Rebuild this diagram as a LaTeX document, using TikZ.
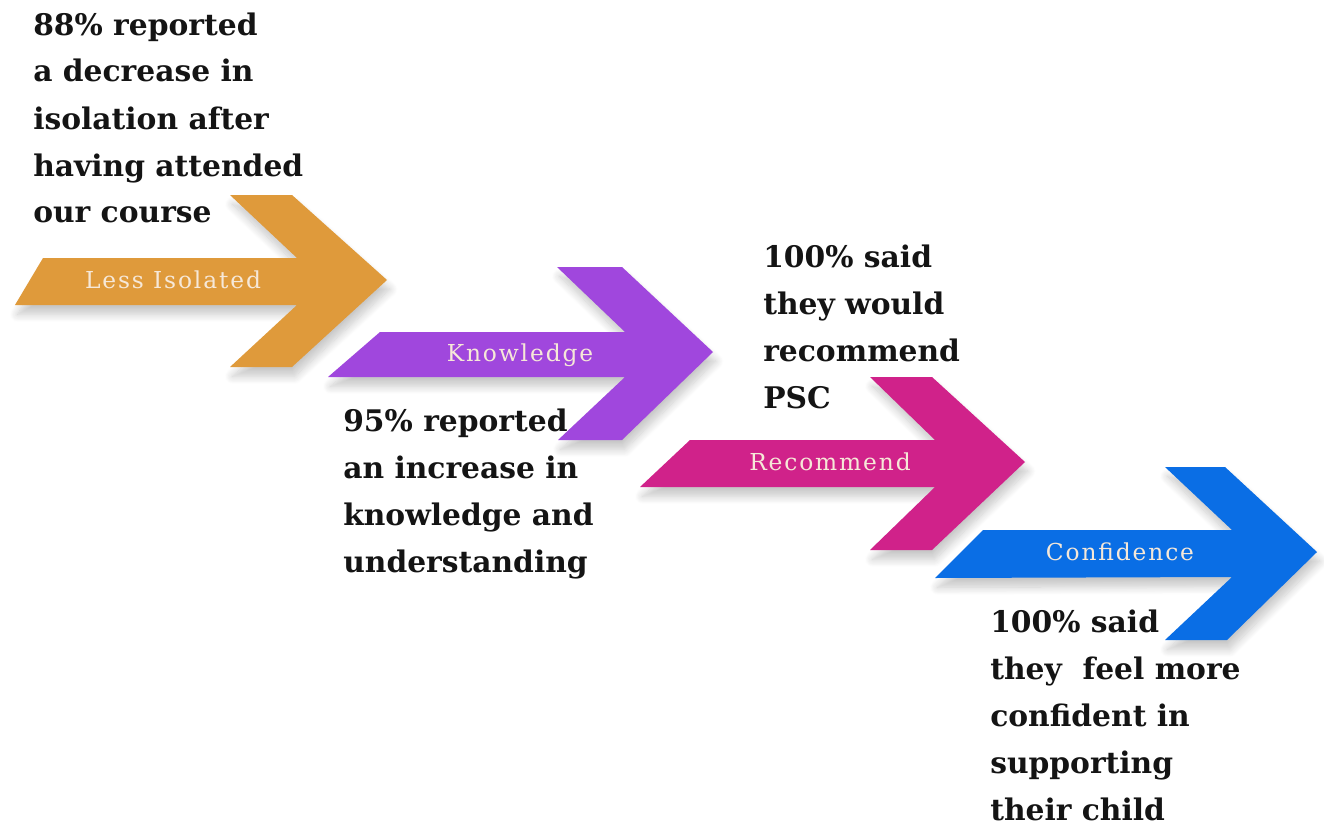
\documentclass[tikz,border=0pt]{standalone}
\usepackage{fontspec}
\setmainfont{DejaVu Serif}
\newfontfamily\bodyfont{DejaVu Serif}[BoldFont={DejaVu Serif Bold}]
\newfontfamily\lblfont{DejaVu Serif}[LetterSpace=8]
\usetikzlibrary{shadows.blur}
\definecolor{cOrange}{HTML}{DF9A3B}
\definecolor{cPurple}{HTML}{A047DD}
\definecolor{cMagenta}{HTML}{D0228A}
\definecolor{cBlue}{HTML}{0A6EE5}
\definecolor{cLabel}{HTML}{F6E8D8}
\definecolor{cText}{HTML}{141414}
\tikzset{
  arrowshape/.style={fill=#1, blur shadow={shadow xshift=2pt, shadow yshift=-7pt, shadow blur steps=10, shadow opacity=22, shadow blur radius=6pt}},
  arrowlabel/.style={text=cLabel, font=\lblfont\fontsize{17.5}{20}\selectfont, inner sep=0pt, anchor=center},
  statblock/.style={text=cText, font=\bodyfont\bfseries\fontsize{22.3}{35.25}\selectfont, inner sep=0pt, anchor=base west}
}
\newcommand{\statlines}[1]{\begin{tabular}[t]{@{}l@{}}#1\end{tabular}}
\begin{document}
\begin{tikzpicture}[x=0.75pt,y=-0.75pt]
\useasboundingbox (0,0) rectangle (1324,828);
% arrows
\fill[arrowshape=cOrange] (15,305) -- (43,258) -- (297,258) -- (230,195) -- (292,195) -- (387,280) -- (292,367) -- (230,367) -- (297,305) -- cycle;
\fill[arrowshape=cPurple] (328,377) -- (380,332) -- (625,332) -- (557,267) -- (622,267) -- (713,352) -- (622,440) -- (558,440) -- (625,377) -- cycle;
\fill[arrowshape=cMagenta] (640,487) -- (690,440) -- (935,440) -- (870,377) -- (932,377) -- (1025,462) -- (932,550) -- (870,550) -- (935,487) -- cycle;
\fill[arrowshape=cBlue] (935,578) -- (983,530) -- (1232,530) -- (1165,467) -- (1225,467) -- (1317,552) -- (1227,640) -- (1165,640) -- (1232,577) -- cycle;
% labels
\node[arrowlabel] (l1) at (173,280) {Less Isolated};
\node[arrowlabel] (l2) at (520,355) {Knowledge};
\node[arrowlabel] (l3) at (830,462) {Recommend};
\node[arrowlabel] (l4) at (1120,552) {Confidence};
% statements
\node[statblock] (t1) at (33,35) {\statlines{88\% reported\\a decrease in\\isolation after\\having attended\\our course}};
\node[statblock] (t2) at (763,267) {\statlines{100\% said\\they would\\recommend\\PSC}};
\node[statblock] (t3) at (343,431) {\statlines{95\% reported\\an increase in\\knowledge and\\understanding}};
\node[statblock] (t4) at (990,632) {\statlines{100\% said\\they\ \ feel more\\confident in\\supporting\\their child}};
\end{tikzpicture}
\end{document}
